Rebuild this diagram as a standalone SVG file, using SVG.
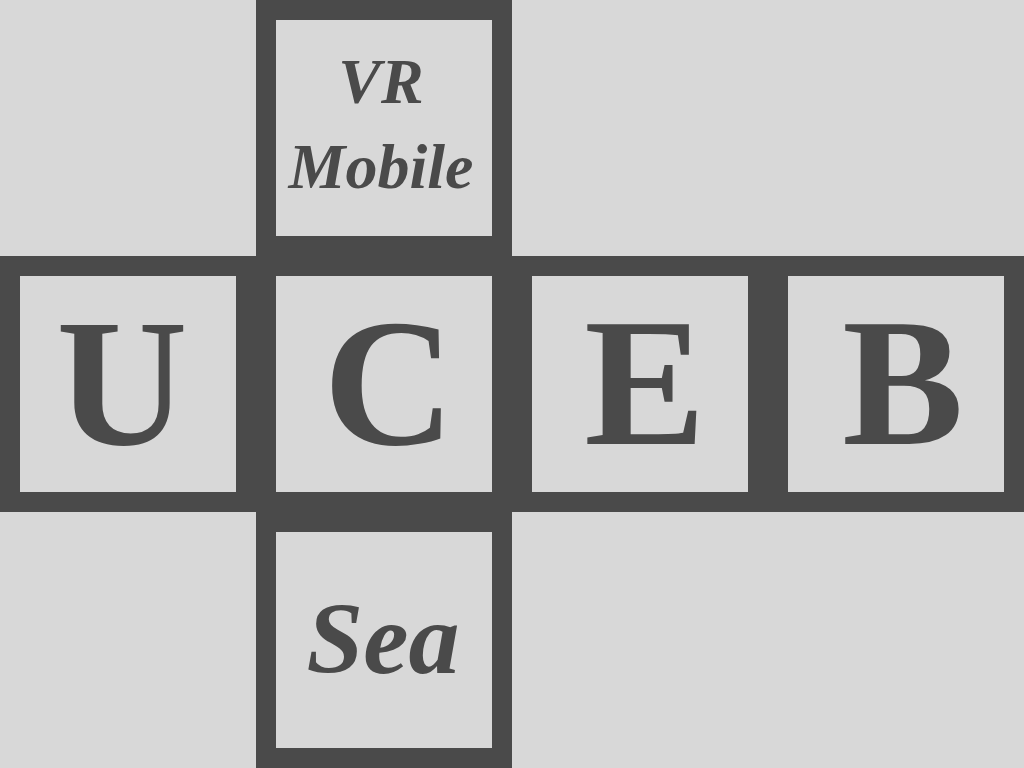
<svg xmlns="http://www.w3.org/2000/svg" width="1024" height="768" viewBox="0 0 1024 768">
<style>
.bg{fill:#d8d8d8}
.band{fill:#4a4a4a}
.face{fill:#d8d8d8}
.big{font-family:"Liberation Serif","Times New Roman",serif;font-weight:bold;font-size:182px;fill:#4a4a4a;text-anchor:middle}
.it{font-family:"Liberation Serif","Times New Roman",serif;font-weight:bold;font-style:italic;fill:#4a4a4a;text-anchor:middle}
</style>
<rect class="bg" x="0" y="0" width="1024" height="768"/>
<g id="cross">
<rect class="band" x="256" y="0" width="256" height="768"/>
<rect class="band" x="0" y="256" width="1024" height="256"/>
</g>
<g id="top">
<rect class="face" x="276" y="20" width="216" height="216"/>
<text class="it" x="381" y="103" font-size="64">VR</text>
<text class="it" x="381" y="188" font-size="64">Mobile</text>
</g>
<g id="u">
<rect class="face" x="20" y="276" width="216" height="216"/>
<text class="big" x="122" y="444">U</text>
</g>
<g id="c">
<rect class="face" x="276" y="276" width="216" height="216"/>
<text class="big" x="389" y="444">C</text>
</g>
<g id="e">
<rect class="face" x="532" y="276" width="216" height="216"/>
<text class="big" x="645" y="444">E</text>
</g>
<g id="b">
<rect class="face" x="788" y="276" width="216" height="216"/>
<text class="big" x="903" y="444">B</text>
</g>
<g id="sea">
<rect class="face" x="276" y="532" width="216" height="216"/>
<text class="it" x="383" y="673" font-size="102">Sea</text>
</g>
<g id="connectors"/>
</svg>
